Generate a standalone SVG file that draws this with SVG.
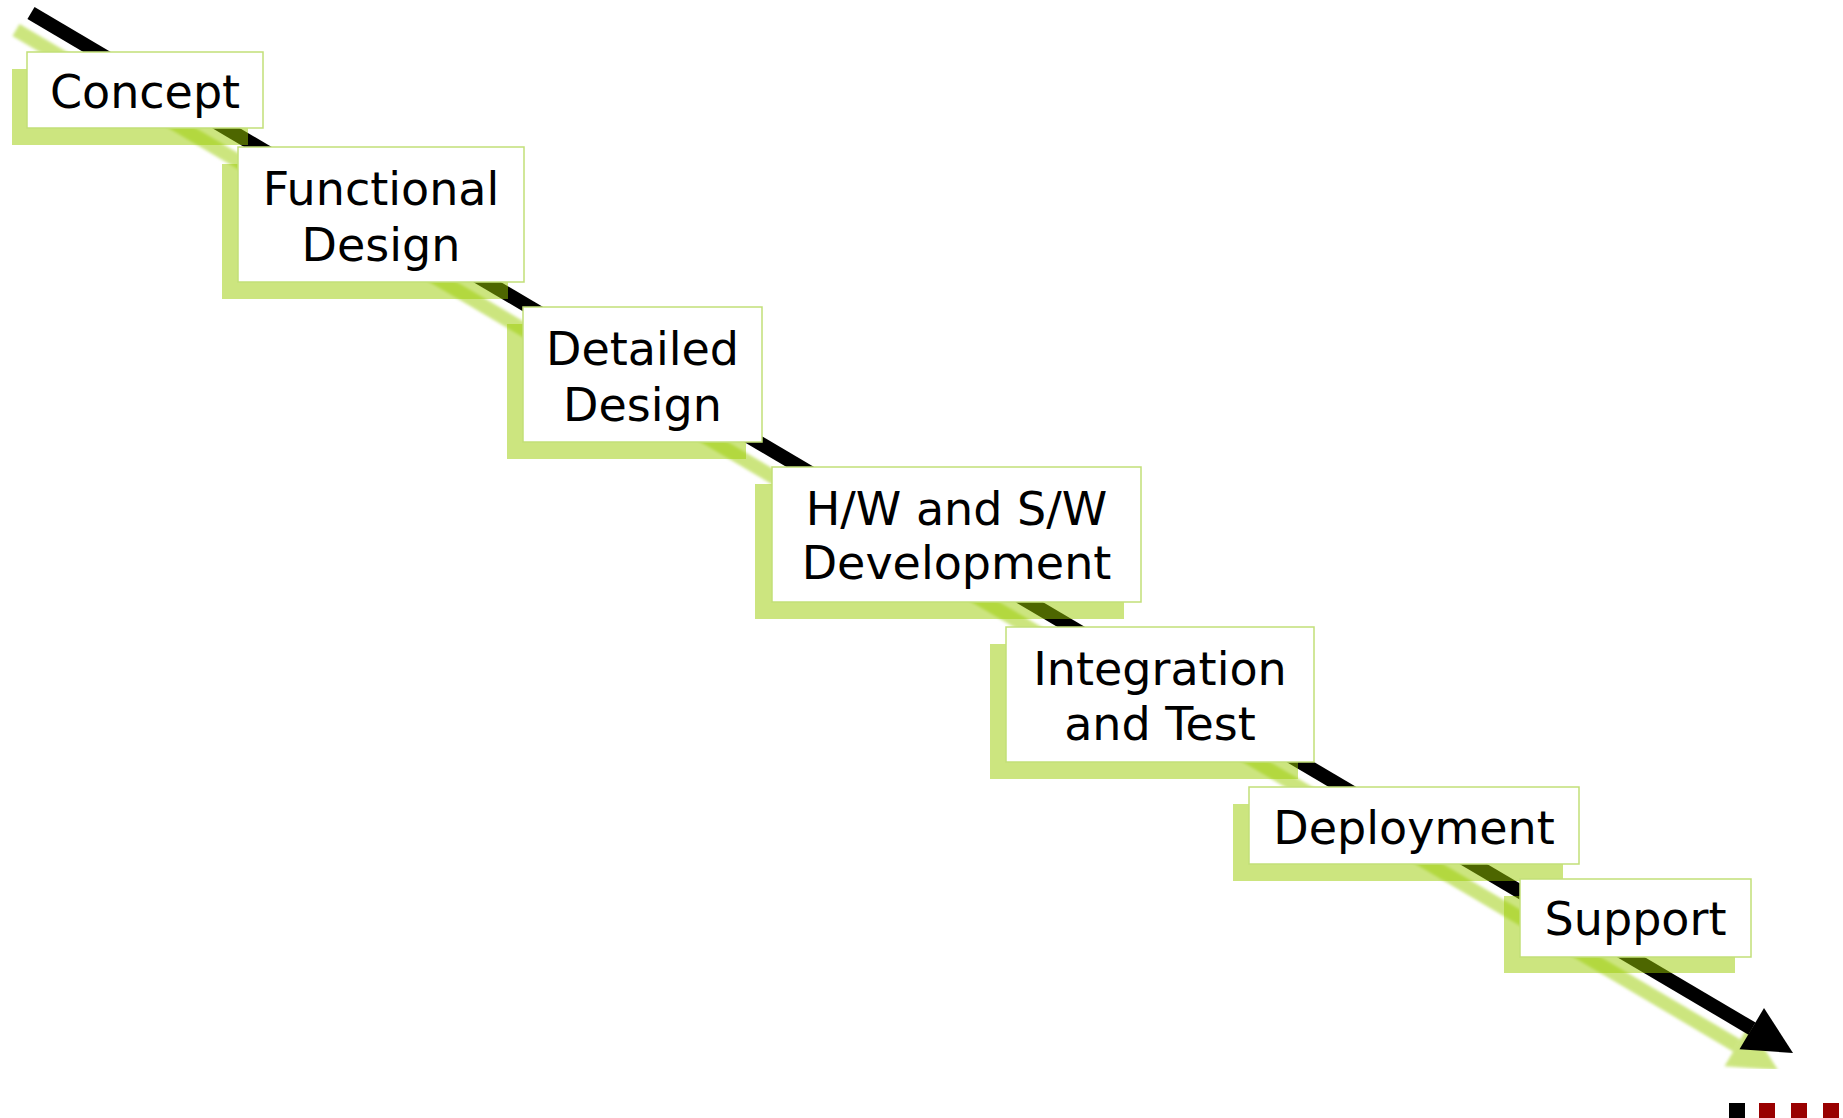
<svg xmlns="http://www.w3.org/2000/svg" width="1843" height="1118" viewBox="0 0 1843 1118">
<defs>
<style>
.box{fill:#ffffff;stroke:#c2df78;stroke-width:1.5}
.shadow{fill:#9acc00;fill-opacity:0.5}
.lbl{font-family:"DejaVu Sans","Verdana",sans-serif;font-size:46px;fill:#000000;text-anchor:middle}
</style>
<filter id="blur" x="-5%" y="-5%" width="110%" height="110%"><feGaussianBlur stdDeviation="1.6"/></filter>
<clipPath id="clipShadow"><rect x="0" y="0" width="1843" height="1069"/></clipPath>
</defs>
<rect x="0" y="0" width="1843" height="1118" fill="#ffffff"/>
<g id="connectors">
  <g id="arrow-shadow" clip-path="url(#clipShadow)">
    <g transform="translate(-15,17)" filter="url(#blur)" opacity="0.5">
      <line x1="31" y1="13" x2="1752" y2="1028.6" stroke="#9acc00" stroke-width="14"/>
      <polygon points="1793,1053 1764,1008 1739.5,1049.3" fill="#9acc00"/>
    </g>
  </g>
  <g id="arrow">
    <line x1="31" y1="13" x2="1752" y2="1028.6" stroke="#000000" stroke-width="14"/>
    <polygon points="1793,1053 1764,1008 1739.5,1049.3" fill="#000000"/>
  </g>
</g>
<g id="node-concept">
  <rect class="shadow" x="12" y="69" width="236" height="76"/>
  <rect class="box" x="27" y="52" width="236" height="76"/>
  <text class="lbl" x="145" y="108">Concept</text>
</g>
<g id="node-functional-design">
  <rect class="shadow" x="222" y="164" width="286" height="135"/>
  <rect class="box" x="238" y="147" width="286" height="135"/>
  <text class="lbl" x="381" y="205">Functional</text>
  <text class="lbl" x="381" y="261">Design</text>
</g>
<g id="node-detailed-design">
  <rect class="shadow" x="507" y="324" width="239" height="135"/>
  <rect class="box" x="523" y="307" width="239" height="135"/>
  <text class="lbl" x="642.5" y="365">Detailed</text>
  <text class="lbl" x="642.5" y="421">Design</text>
</g>
<g id="node-hw-sw-development">
  <rect class="shadow" x="755" y="484" width="369" height="135"/>
  <rect class="box" x="772" y="467" width="369" height="135"/>
  <text class="lbl" x="956.5" y="525">H/W and S/W</text>
  <text class="lbl" x="956.5" y="579">Development</text>
</g>
<g id="node-integration-test">
  <rect class="shadow" x="990" y="644" width="308" height="135"/>
  <rect class="box" x="1006" y="627" width="308" height="135"/>
  <text class="lbl" x="1160" y="685">Integration</text>
  <text class="lbl" x="1160" y="740">and Test</text>
</g>
<g id="node-deployment">
  <rect class="shadow" x="1233" y="804" width="330" height="77"/>
  <rect class="box" x="1249" y="787" width="330" height="77"/>
  <text class="lbl" x="1414" y="844">Deployment</text>
</g>
<g id="node-support">
  <rect class="shadow" x="1504" y="896" width="231" height="77"/>
  <rect class="box" x="1520" y="879" width="231" height="78"/>
  <text class="lbl" x="1635.5" y="935">Support</text>
</g>
<g id="footer-marks">
  <rect x="1729" y="1103" width="16" height="15" fill="#000000"/>
  <rect x="1759" y="1103" width="16" height="15" fill="#990000"/>
  <rect x="1791" y="1103" width="16" height="15" fill="#990000"/>
  <rect x="1823" y="1103" width="16" height="15" fill="#990000"/>
</g>
</svg>
